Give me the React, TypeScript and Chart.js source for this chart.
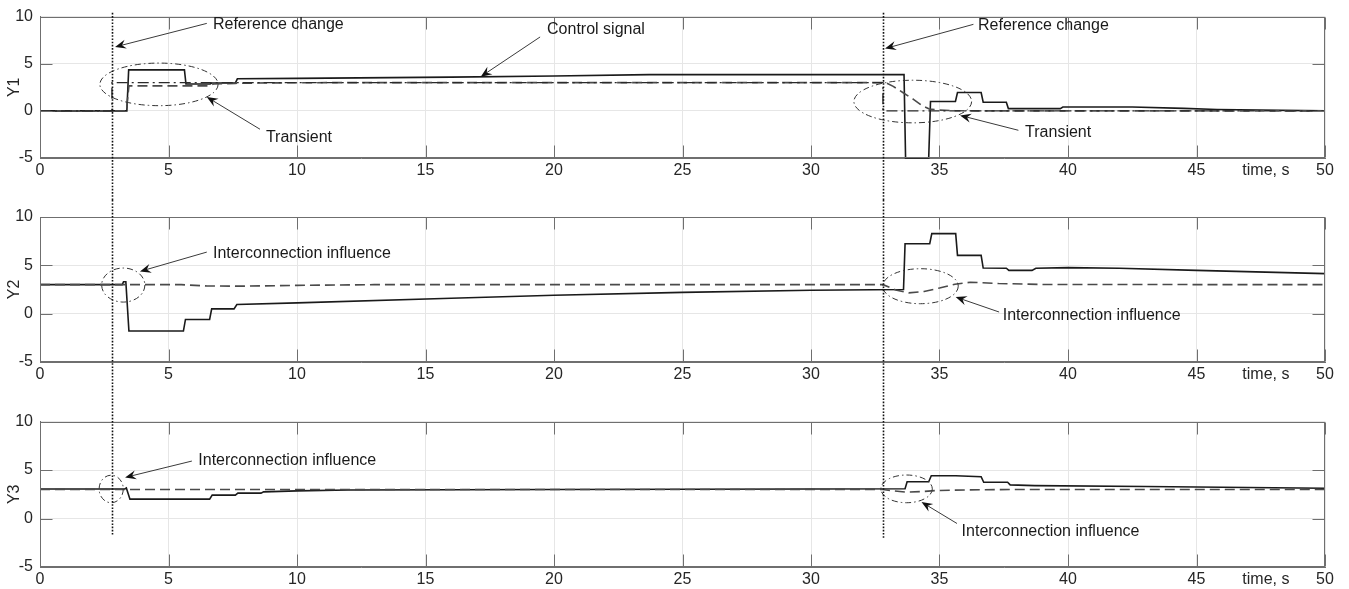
import React, { useEffect, useRef } from "react";
import { Chart, registerables } from "chart.js";

Chart.register(...registerables);

const FONT = "'Liberation Sans', Arial, Helvetica, sans-serif";

// ---------- axes ----------
const xTickValues = [0, 5, 10, 15, 20, 25, 30, 35, 40, 45, 50];
const yTickValues = [-5, 0, 5, 10];
const xLabelText = "time, s";
const xLabelAt = 47.7;
const panelNames = ["Y1", "Y2", "Y3"];

// ---------- reference change markers ----------
const refChangeTimes = [2.8, 32.8];
const refLineTopY1 = 10.4;
const refLineBottomY3 = [-1.75, -2.0];

// ---------- Y1 ----------
const y1CtrlT = [0, 3.38, 3.45, 5.62, 5.68, 6.62, 6.68, 7.6, 7.68, 10, 16, 20, 23.7, 33.62, 33.68, 34.58, 34.65, 35.62, 35.7, 36.62, 36.7, 37.6, 37.68, 39.7, 39.8, 42.5, 44.5, 45.8, 50];
const y1CtrlV = [0, 0, 4.35, 4.35, 2.85, 2.85, 2.95, 2.95, 3.4, 3.45, 3.58, 3.7, 3.84, 3.84, -5, -5, 1.0, 1.0, 1.95, 1.95, 0.92, 0.92, 0.24, 0.24, 0.41, 0.41, 0.26, 0.14, 0];
const y1RefT = [0, 2.8, 2.8, 32.8, 32.8, 50];
const y1RefV = [0, 0, 3, 3, 0, 0];
const y1OutT = [0, 3.36, 3.46, 6.55, 6.75, 7.6, 9, 12, 32.9, 33.2, 33.6, 34.0, 34.3, 34.6, 35.0, 35.6, 36.5, 50];
const y1OutV = [0, 0, 2.65, 2.65, 2.85, 2.92, 2.97, 3.0, 3.0, 2.6, 1.9, 1.2, 0.6, 0.2, 0.08, 0.02, 0, 0];

// ---------- Y2 ----------
const y2CtrlT = [0, 3.2, 3.25, 3.34, 3.46, 5.58, 5.66, 6.6, 6.68, 7.55, 7.66, 10, 16, 20, 25, 30, 33.6, 33.66, 34.62, 34.7, 35.63, 35.7, 36.62, 36.7, 37.6, 37.7, 38.6, 38.75, 40, 42, 45, 50];
const y2CtrlV = [3, 3, 3.3, 3.3, -1.8, -1.8, -0.6, -0.6, 0.5, 0.5, 0.95, 1.12, 1.6, 1.9, 2.2, 2.43, 2.5, 7.24, 7.24, 8.28, 8.28, 6.03, 6.03, 4.72, 4.7, 4.48, 4.48, 4.7, 4.76, 4.7, 4.48, 4.14];
const y2OutT = [0, 5.5, 6.5, 8, 10, 13, 32.8, 33.3, 33.8, 34.4, 35.0, 35.6, 36.2, 37.3, 39, 50];
const y2OutV = [3, 3, 2.86, 2.85, 2.93, 3.0, 3.0, 2.45, 2.15, 2.3, 2.65, 3.05, 3.25, 3.12, 3.02, 3.0];

// ---------- Y3 ----------
const y3CtrlT = [0, 3.3, 3.36, 3.5, 6.6, 6.7, 7.6, 7.7, 8.6, 8.7, 10, 12, 20, 30, 33.66, 33.74, 34.58, 34.68, 35.63, 36.62, 36.72, 37.65, 37.75, 38.7, 43, 50];
const y3CtrlV = [3.05, 3.05, 3.15, 2.0, 2.0, 2.42, 2.42, 2.62, 2.62, 2.75, 2.85, 2.95, 3.0, 3.05, 3.08, 3.8, 3.8, 4.42, 4.42, 4.32, 3.74, 3.74, 3.47, 3.4, 3.3, 3.13];
const y3OutT = [0, 32.8, 33.2, 33.7, 34.3, 34.9, 36, 38, 50];
const y3OutV = [3.0, 3.0, 2.85, 2.72, 2.78, 2.89, 2.95, 3.0, 3.0];

// ---------- annotations (data units) ----------
const y1Texts = [
  { x: 6.73, y: 9.18, s: "Reference change" },
  { x: 19.73, y: 8.66, s: "Control signal" },
  { x: 36.5, y: 9.07, s: "Reference change" },
  { x: 8.79, y: -2.85, s: "Transient" },
  { x: 38.33, y: -2.33, s: "Transient" },
];
const y1Arrows = [
  [6.49, 9.28, 2.92, 6.78],
  [19.46, 7.84, 17.15, 3.63],
  [36.32, 9.18, 32.88, 6.61],
  [8.56, -1.95, 6.49, 1.47],
  [38.07, -2.06, 35.8, -0.48],
];
const y1Ellipses = [
  [4.63, 2.81, 2.3, 2.26],
  [33.96, 0.99, 2.29, 2.26],
];

const y2Texts = [
  { x: 6.73, y: 6.24, s: "Interconnection influence" },
  { x: 37.46, y: -0.2, s: "Interconnection influence" },
];
const y2Arrows = [
  [6.49, 6.37, 3.89, 4.37],
  [37.32, 0.17, 35.63, 1.72],
];
const y2Ellipses = [
  [3.24, 2.96, 0.84, 1.76],
  [34.26, 2.84, 1.47, 1.81],
];

const y3Texts = [
  { x: 6.16, y: 5.95, s: "Interconnection influence" },
  { x: 35.86, y: -1.35, s: "Interconnection influence" },
];
const y3Arrows = [
  [5.91, 5.93, 3.31, 4.24],
  [35.68, -0.51, 34.3, 1.7],
];
const y3Ellipses = [
  [2.77, 3.05, 0.47, 1.42],
  [33.72, 3.06, 1.0, 1.43],
];

// ---------- styles ----------
const AXIS = "#6f6f6f";
const GRID = "#e6e6e6";
const TEXT = "#262626";
const styleSolid = { borderColor: "#1a1a1a", borderWidth: 1.6, borderDash: [] as number[] };
const styleDashed = { borderColor: "#4a4a4a", borderWidth: 1.6, borderDash: [10, 5] };
const styleDashDot = { borderColor: "#2a2a2a", borderWidth: 1.4, borderDash: [11, 4, 2, 4] };

type Series = { t: number[]; v: number[]; st: any };
type PanelCfg = {
  name: string;
  top: number;
  h: number;
  padTop: number;
  axisH: number;
  series: Series[];
  texts: { x: number; y: number; s: string }[];
  arrows: number[][];
  ellipses: number[][];
  refTop: (number | null)[];
  refBottom: (number | null)[];
};

const panels: PanelCfg[] = [
  {
    name: panelNames[0], top: 0, h: 200, padTop: 12, axisH: 42,
    series: [
      { t: y1RefT, v: y1RefV, st: styleDashDot },
      { t: y1OutT, v: y1OutV, st: styleDashed },
      { t: y1CtrlT, v: y1CtrlV, st: styleSolid },
    ],
    texts: y1Texts, arrows: y1Arrows, ellipses: y1Ellipses,
    refTop: [refLineTopY1, refLineTopY1], refBottom: [null, null],
  },
  {
    name: panelNames[1], top: 200, h: 205, padTop: 17, axisH: 43,
    series: [
      { t: y2OutT, v: y2OutV, st: styleDashed },
      { t: y2CtrlT, v: y2CtrlV, st: styleSolid },
    ],
    texts: y2Texts, arrows: y2Arrows, ellipses: y2Ellipses,
    refTop: [null, null], refBottom: [null, null],
  },
  {
    name: panelNames[2], top: 405, h: 184, padTop: 15, axisH: 22,
    series: [
      { t: y3OutT, v: y3OutV, st: styleDashed },
      { t: y3CtrlT, v: y3CtrlV, st: styleSolid },
    ],
    texts: y3Texts, arrows: y3Arrows, ellipses: y3Ellipses,
    refTop: [null, null], refBottom: refLineBottomY3,
  },
];

function drawArrow(ctx: CanvasRenderingContext2D, x1: number, y1: number, x2: number, y2: number) {
  const a = Math.atan2(y2 - y1, x2 - x1);
  const c = Math.cos(a), s = Math.sin(a);
  const L = 11, W = 4.5;
  ctx.beginPath();
  ctx.moveTo(x1, y1);
  ctx.lineTo(x2 - c * L * 0.6, y2 - s * L * 0.6);
  ctx.stroke();
  ctx.beginPath();
  ctx.moveTo(x2, y2);
  ctx.lineTo(x2 - c * L - s * W, y2 - s * L + c * W);
  ctx.lineTo(x2 - c * L * 0.65, y2 - s * L * 0.65);
  ctx.lineTo(x2 - c * L + s * W, y2 - s * L - c * W);
  ctx.closePath();
  ctx.fill();
}

function makeOverlay(p: PanelCfg) {
  return {
    id: "overlay" + p.name,
    afterDraw(chart: any) {
      const { ctx, chartArea: a, scales } = chart;
      const xs = scales.x, ys = scales.y;
      ctx.save();
      // box
      ctx.strokeStyle = AXIS;
      ctx.lineWidth = 1;
      ctx.setLineDash([]);
      const L = Math.round(a.left) + 0.5, R = Math.round(a.right) - 0.5;
      const T = Math.round(a.top) + 0.5, B = Math.round(a.bottom) - 0.5;
      ctx.strokeRect(L, T, R - L, B - T);
      // inner ticks
      const tl = 12;
      ctx.beginPath();
      for (const v of xTickValues) {
        const px = Math.round(xs.getPixelForValue(v)) + 0.5;
        ctx.moveTo(px, B); ctx.lineTo(px, B - tl);
        ctx.moveTo(px, T); ctx.lineTo(px, T + tl);
      }
      for (const v of yTickValues) {
        const py = Math.round(ys.getPixelForValue(v)) + 0.5;
        ctx.moveTo(L, py); ctx.lineTo(L + tl, py);
        ctx.moveTo(R, py); ctx.lineTo(R - tl, py);
      }
      ctx.stroke();

      // x label
      ctx.fillStyle = TEXT;
      ctx.font = `16px ${FONT}`;
      ctx.textAlign = "center";
      ctx.textBaseline = "middle";
      ctx.fillText(xLabelText, xs.getPixelForValue(xLabelAt), a.bottom + 13);

      // ellipses
      ctx.strokeStyle = "#333";
      ctx.lineWidth = 1;
      ctx.setLineDash([6, 3, 1.5, 3]);
      for (const [cx, cy, rx, ry] of p.ellipses) {
        const px = xs.getPixelForValue(cx), py = ys.getPixelForValue(cy);
        const prx = Math.abs(xs.getPixelForValue(cx + rx) - px);
        const pry = Math.abs(ys.getPixelForValue(cy + ry) - py);
        ctx.beginPath();
        ctx.ellipse(px, py, prx, pry, 0, 0, Math.PI * 2);
        ctx.stroke();
      }

      // arrows
      ctx.setLineDash([]);
      ctx.strokeStyle = "#3a3a3a";
      ctx.fillStyle = "#111";
      ctx.lineWidth = 1;
      for (const [x1, y1, x2, y2] of p.arrows) {
        drawArrow(ctx, xs.getPixelForValue(x1), ys.getPixelForValue(y1), xs.getPixelForValue(x2), ys.getPixelForValue(y2));
      }

      // texts
      ctx.fillStyle = "#1a1a1a";
      ctx.font = `16px ${FONT}`;
      ctx.textAlign = "left";
      ctx.textBaseline = "middle";
      for (const t of p.texts) {
        ctx.fillText(t.s, xs.getPixelForValue(t.x), ys.getPixelForValue(t.y));
      }

      // reference change dotted lines
      ctx.strokeStyle = "#111";
      ctx.lineWidth = 1.6;
      ctx.setLineDash([1.6, 1.6]);
      refChangeTimes.forEach((tv, i) => {
        const px = Math.round(xs.getPixelForValue(tv)) + 0.5;
        const t0 = p.refTop[i];
        const b0 = p.refBottom[i];
        const y0 = t0 === null ? 0 : ys.getPixelForValue(t0);
        const y1 = b0 === null ? chart.height : ys.getPixelForValue(b0);
        ctx.beginPath();
        ctx.moveTo(px, y0);
        ctx.lineTo(px, y1);
        ctx.stroke();
      });
      ctx.restore();
    },
  };
}

function Panel({ p }: { p: PanelCfg }) {
  const ref = useRef<HTMLCanvasElement>(null);
  useEffect(() => {
    const chart = new Chart(ref.current as HTMLCanvasElement, {
      type: "line",
      data: {
        datasets: p.series.map((s) => ({
          data: s.t.map((x, i) => ({ x, y: s.v[i] })),
          borderColor: s.st.borderColor,
          borderWidth: s.st.borderWidth,
          borderDash: s.st.borderDash,
          pointRadius: 0,
          tension: 0,
          fill: false,
          clip: false as any,
        })),
      },
      options: {
        animation: false,
        responsive: false,
        devicePixelRatio: 1,
        layout: { padding: { top: p.padTop, right: 24, bottom: 0, left: 0 } },
        plugins: { legend: { display: false }, tooltip: { enabled: false }, title: { display: false } },
        scales: {
          x: {
            type: "linear",
            min: 0,
            max: 50,
            afterBuildTicks: (s: any) => { s.ticks = xTickValues.map((v) => ({ value: v })); },
            afterFit: (s: any) => { s.height = p.axisH; },
            ticks: { color: TEXT, font: { family: FONT, size: 16 }, padding: 3, maxRotation: 0, autoSkip: false },
            grid: { color: GRID, lineWidth: 1, drawTicks: false },
            border: { display: true, color: AXIS, width: 1 },
          },
          y: {
            type: "linear",
            min: -5,
            max: 10,
            afterBuildTicks: (s: any) => { s.ticks = yTickValues.map((v) => ({ value: v })); },
            afterFit: (s: any) => { s.width = 40; },
            ticks: { color: TEXT, font: { family: FONT, size: 16 }, padding: 7, autoSkip: false },
            grid: { color: GRID, lineWidth: 1, drawTicks: false },
            border: { display: true, color: AXIS, width: 1 },
            title: { display: true, text: p.name, color: TEXT, font: { family: FONT, size: 16 }, padding: { top: 5, bottom: 0 } },
          },
        },
      },
      plugins: [makeOverlay(p)],
    } as any);
    return () => chart.destroy();
  }, []);
  return (
    <div style={{ position: "absolute", left: 0, top: p.top, width: 1349, height: p.h }}>
      <canvas ref={ref} width={1349} height={p.h} style={{ display: "block" }} />
    </div>
  );
}

export default function App() {
  return (
    <div style={{ position: "absolute", left: 0, top: 0, width: 1349, height: 589, background: "#fff" }}>
      {panels.map((p) => (
        <Panel key={p.name} p={p} />
      ))}
    </div>
  );
}
